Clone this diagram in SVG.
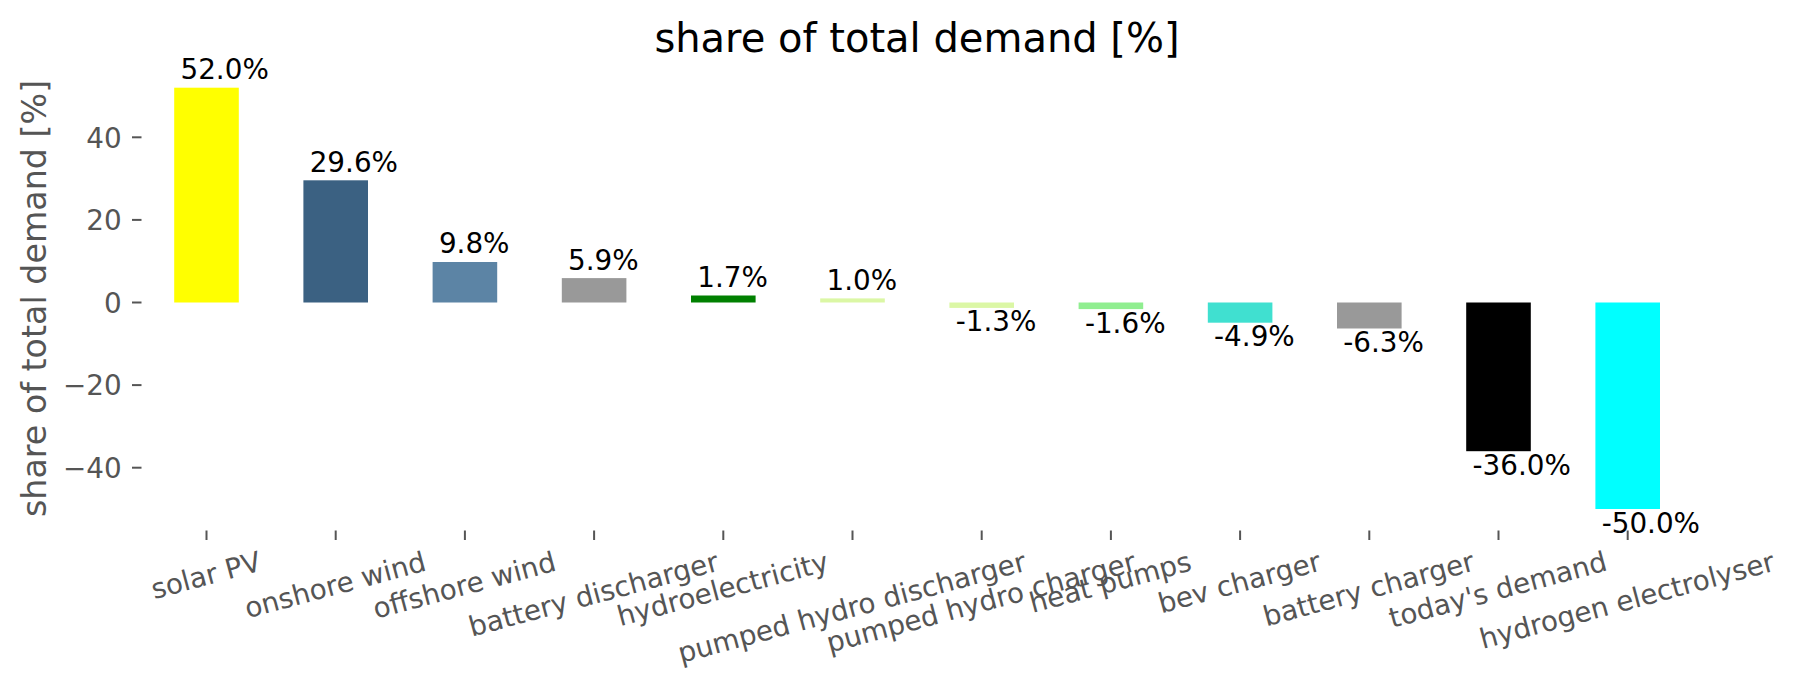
<svg xmlns="http://www.w3.org/2000/svg" width="1797" height="689" viewBox="0 0 1797 689">
<style>
text{font-family:"DejaVu Sans","Liberation Sans",sans-serif}
.title{font-size:40px;fill:#000;text-anchor:middle}
.ylab{font-size:33.3px;fill:#555555;text-anchor:middle}
.ytl{font-size:27.8px;fill:#555555;text-anchor:end}
.xtl{font-size:27.8px;fill:#555555;text-anchor:middle}
.val{font-size:27.8px;fill:#000}
.tick{stroke:#555555;stroke-width:2}
</style>
<rect width="1797" height="689" fill="#ffffff"/>
<text class="title" x="917" y="51.5">share of total demand [%]</text>
<text class="ylab" transform="translate(45.5,298.4) rotate(-90)">share of total demand [%]</text>
<g id="yaxis">
<line class="tick" x1="132" y1="137.3" x2="141.5" y2="137.3"/>
<line class="tick" x1="132" y1="219.9" x2="141.5" y2="219.9"/>
<line class="tick" x1="132" y1="302.5" x2="141.5" y2="302.5"/>
<line class="tick" x1="132" y1="385.1" x2="141.5" y2="385.1"/>
<line class="tick" x1="132" y1="467.7" x2="141.5" y2="467.7"/>
<text class="ytl" x="121.7" y="147.5">40</text>
<text class="ytl" x="121.7" y="230.1">20</text>
<text class="ytl" x="121.7" y="312.7">0</text>
<text class="ytl" x="121.7" y="395.3">−20</text>
<text class="ytl" x="121.7" y="477.9">−40</text>
</g>
<g id="xaxis">
<line class="tick" x1="206.5" y1="530.5" x2="206.5" y2="540"/>
<line class="tick" x1="335.7" y1="530.5" x2="335.7" y2="540"/>
<line class="tick" x1="464.9" y1="530.5" x2="464.9" y2="540"/>
<line class="tick" x1="594.1" y1="530.5" x2="594.1" y2="540"/>
<line class="tick" x1="723.3" y1="530.5" x2="723.3" y2="540"/>
<line class="tick" x1="852.5" y1="530.5" x2="852.5" y2="540"/>
<line class="tick" x1="981.7" y1="530.5" x2="981.7" y2="540"/>
<line class="tick" x1="1110.9" y1="530.5" x2="1110.9" y2="540"/>
<line class="tick" x1="1240.1" y1="530.5" x2="1240.1" y2="540"/>
<line class="tick" x1="1369.3" y1="530.5" x2="1369.3" y2="540"/>
<line class="tick" x1="1498.5" y1="530.5" x2="1498.5" y2="540"/>
<line class="tick" x1="1627.7" y1="530.5" x2="1627.7" y2="540"/>
<text class="xtl" transform="translate(206.5,577.7) rotate(-15)" y="7.2">solar PV</text>
<text class="xtl" transform="translate(335.7,587.3) rotate(-15)" y="7.2">onshore wind</text>
<text class="xtl" transform="translate(464.9,587.6) rotate(-15)" y="7.2">offshore wind</text>
<text class="xtl" transform="translate(594.1,596.5) rotate(-15)" y="7.2">battery discharger</text>
<text class="xtl" transform="translate(723.3,591.3) rotate(-15)" y="7.2">hydroelectricity</text>
<text class="xtl" transform="translate(852.5,609.7) rotate(-15)" y="7.2">pumped hydro discharger</text>
<text class="xtl" transform="translate(981.7,604.6) rotate(-15)" y="7.2">pumped hydro charger</text>
<text class="xtl" transform="translate(1110.9,584.6) rotate(-15)" y="7.2">heat pumps</text>
<text class="xtl" transform="translate(1240.1,584.8) rotate(-15)" y="7.2">bev charger</text>
<text class="xtl" transform="translate(1369.3,591.3) rotate(-15)" y="7.2">battery charger</text>
<text class="xtl" transform="translate(1498.5,592.1) rotate(-15)" y="7.2">today's demand</text>
<text class="xtl" transform="translate(1627.7,602.6) rotate(-15)" y="7.2">hydrogen electrolyser</text>
</g>
<g id="bar-solar-pv">
<rect x="174.2" y="87.7" width="64.6" height="214.8" fill="#ffff00"/>
<text class="val" x="180.5" y="79.1">52.0%</text>
</g>
<g id="bar-onshore-wind">
<rect x="303.4" y="180.3" width="64.6" height="122.2" fill="#3b6182"/>
<text class="val" x="309.7" y="171.7">29.6%</text>
</g>
<g id="bar-offshore-wind">
<rect x="432.6" y="262.0" width="64.6" height="40.5" fill="#5c84a5"/>
<text class="val" x="438.9" y="253.4">9.8%</text>
</g>
<g id="bar-battery-discharger">
<rect x="561.8" y="278.1" width="64.6" height="24.4" fill="#999999"/>
<text class="val" x="568.1" y="269.5">5.9%</text>
</g>
<g id="bar-hydroelectricity">
<rect x="691.0" y="295.5" width="64.6" height="7.0" fill="#008000"/>
<text class="val" x="697.3" y="286.9">1.7%</text>
</g>
<g id="bar-pumped-hydro-discharger">
<rect x="820.2" y="298.4" width="64.6" height="4.1" fill="#dbf7a5"/>
<text class="val" x="826.5" y="289.8">1.0%</text>
</g>
<g id="bar-pumped-hydro-charger">
<rect x="949.4" y="302.5" width="64.6" height="5.4" fill="#dbf7a5"/>
<text class="val" x="955.7" y="331.4">-1.3%</text>
</g>
<g id="bar-heat-pumps">
<rect x="1078.6" y="302.5" width="64.6" height="6.6" fill="#90ee90"/>
<text class="val" x="1084.9" y="332.6">-1.6%</text>
</g>
<g id="bar-bev-charger">
<rect x="1207.8" y="302.5" width="64.6" height="20.2" fill="#40e0d0"/>
<text class="val" x="1214.1" y="346.2">-4.9%</text>
</g>
<g id="bar-battery-charger">
<rect x="1337.0" y="302.5" width="64.6" height="26.0" fill="#999999"/>
<text class="val" x="1343.3" y="352.0">-6.3%</text>
</g>
<g id="bar-todays-demand">
<rect x="1466.2" y="302.5" width="64.6" height="148.7" fill="#000000"/>
<text class="val" x="1472.5" y="474.7">-36.0%</text>
</g>
<g id="bar-hydrogen-electrolyser">
<rect x="1595.4" y="302.5" width="64.6" height="206.5" fill="#00ffff"/>
<text class="val" x="1601.7" y="532.5">-50.0%</text>
</g>
<g id="connectors"></g>
</svg>
